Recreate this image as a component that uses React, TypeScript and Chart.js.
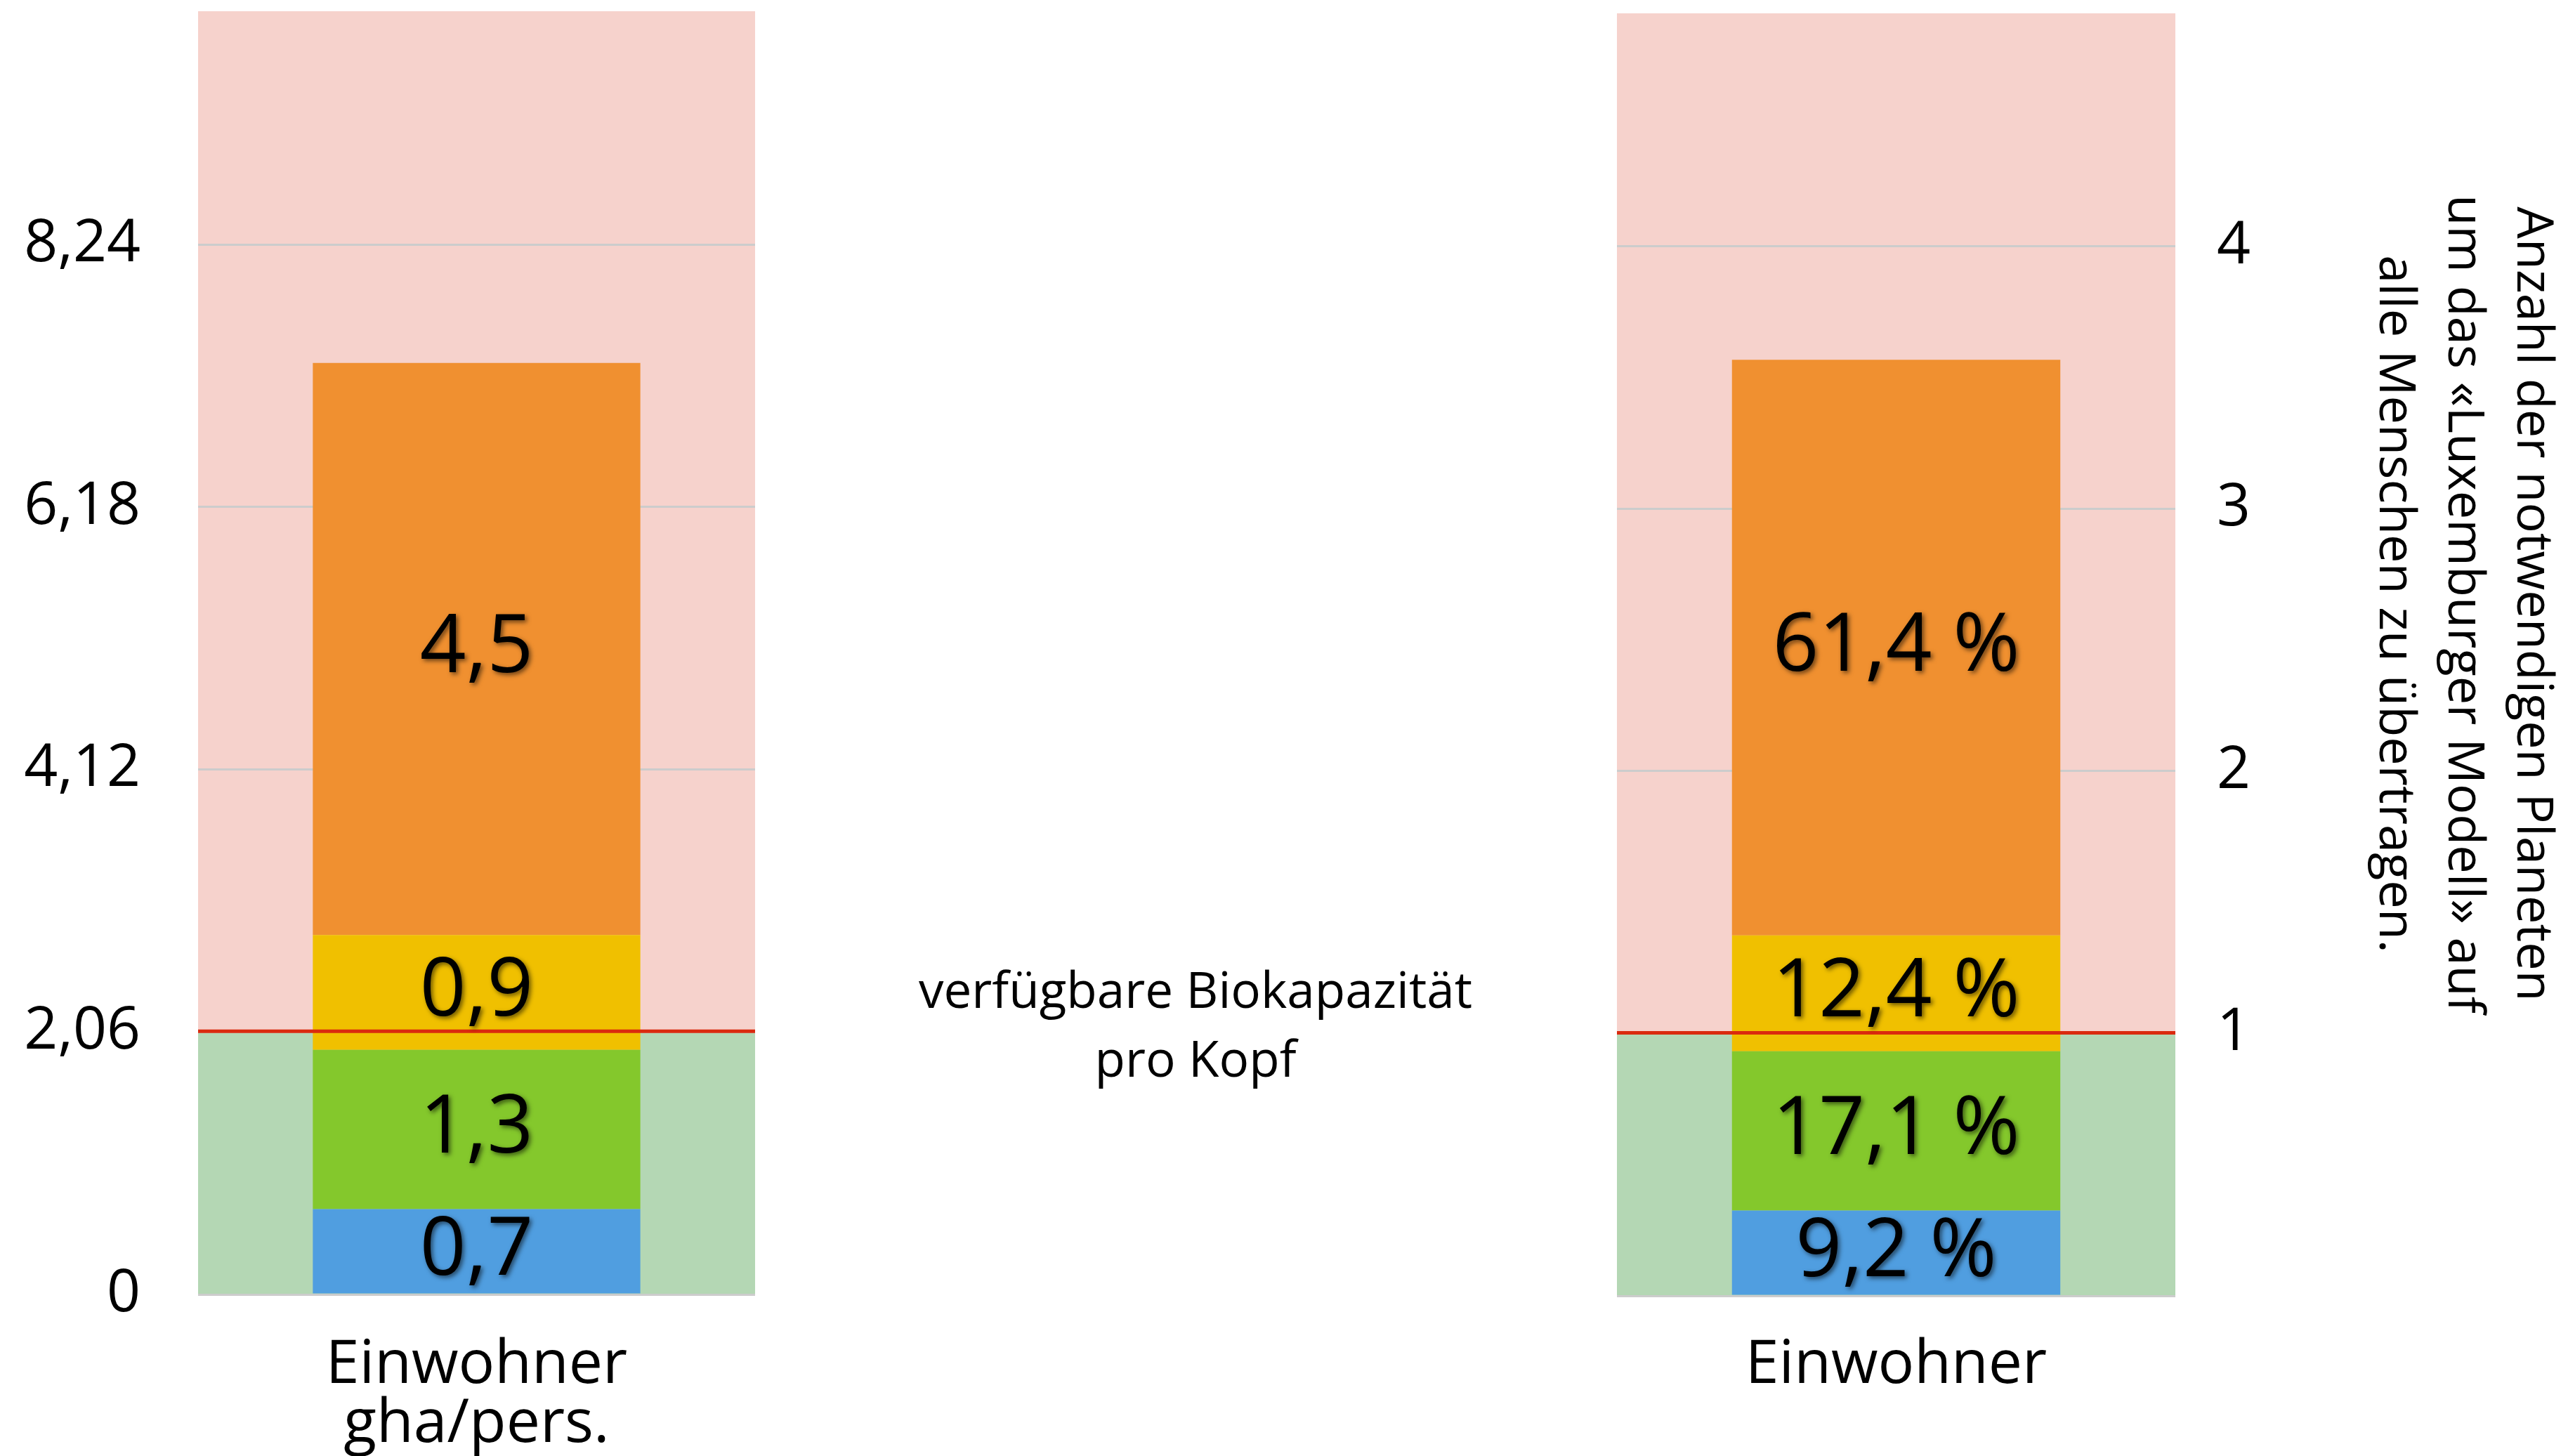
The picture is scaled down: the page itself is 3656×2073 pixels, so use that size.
import React, { useEffect, useRef } from 'react';
import { Chart, registerables } from 'chart.js';

Chart.register(...registerables);

// ---------- data ----------
const BIOCAPACITY = 2.06; // gha per person = 1 planet
const Y_MAX = 10.07;
const LEFT_TICKS = [0, 2.06, 4.12, 6.18, 8.24];
const LEFT_TICK_LABELS = ['0', '2,06', '4,12', '6,18', '8,24'];
const PLANET_TICKS = [0, 1, 2, 3, 4];
const PLANET_TICK_LABELS = ['', '1', '2', '3', '4'];
const SEGMENT_NAMES = ['Anteil 1', 'Anteil 2', 'Anteil 3', 'Anteil 4'];
const LEFT_SEGMENT_VALUES = [0.67, 1.25, 0.9, 4.49];
const RIGHT_SEGMENT_VALUES = [0.67, 1.25, 0.91, 4.52];
const LEFT_VALUE_LABELS = ['0,7', '1,3', '0,9', '4,5'];
const RIGHT_SHARE_LABELS = ['9,2 %', '17,1 %', '12,4 %', '61,4 %'];
const LEFT_CATEGORY = [['Einwohner', 'gha/pers.']];
const RIGHT_CATEGORY = ['Einwohner'];
const AXIS_TITLE_LINES = [
  'Anzahl der notwendigen Planeten',
  'um das «Luxemburger Modell» auf',
  'alle Menschen zu übertragen.',
];
const MIDDLE_TEXT = ['verfügbare Biokapazität', 'pro Kopf'];

// ---------- style ----------
const FONT = '"Open Sans", "Noto Sans", sans-serif';
const SEGMENT_COLORS = ['#509EE0', '#84C82C', '#F0C000', '#F09030'];
const PINK = '#F6D2CC';
const GREEN_BG = '#B4D7B4';
const GRID = '#CCCCCC';
const RED = '#DA2A0E';
const LABEL_SIZE = 115;
const TICK_SIZE = 84;

function makeZonesPlugin(valueLabels: string[], extraDraw?: (chart: any) => void) {
  return {
    id: 'zones',
    beforeDraw(chart: any) {
      const { ctx, chartArea: a, scales } = chart;
      const y = scales.y;
      const yb = y.getPixelForValue(BIOCAPACITY);
      const y0 = y.getPixelForValue(0);
      ctx.save();
      ctx.fillStyle = PINK;
      ctx.fillRect(a.left, a.top, a.right - a.left, yb - a.top);
      ctx.fillStyle = GREEN_BG;
      ctx.fillRect(a.left, yb, a.right - a.left, y0 - yb);
      ctx.restore();
    },
    afterDatasetsDraw(chart: any) {
      const { ctx, chartArea: a, scales } = chart;
      const y = scales.y;
      const yb = y.getPixelForValue(BIOCAPACITY);
      ctx.save();
      ctx.strokeStyle = RED;
      ctx.lineWidth = 5;
      ctx.beginPath();
      ctx.moveTo(a.left, yb - 1);
      ctx.lineTo(a.right, yb - 1);
      ctx.stroke();
      ctx.font = `400 ${LABEL_SIZE}px ${FONT}`;
      ctx.textAlign = 'center';
      ctx.textBaseline = 'alphabetic';
      ctx.fillStyle = '#000';
      ctx.shadowColor = 'rgba(0,0,0,0.55)';
      ctx.shadowBlur = 6;
      ctx.shadowOffsetX = 3;
      ctx.shadowOffsetY = 3;
      chart.data.datasets.forEach((_ds: any, i: number) => {
        const el = chart.getDatasetMeta(i).data[0];
        if (!el) return;
        const p = el.getProps(['x', 'y', 'base'], true);
        const mid = (p.y + p.base) / 2;
        ctx.fillText(valueLabels[i], p.x, mid - 8 + LABEL_SIZE * 0.357);
      });
      ctx.restore();
    },
    afterDraw(chart: any) {
      if (extraDraw) extraDraw(chart);
    },
  };
}

function datasets(values: number[]) {
  return values.map((v, i) => ({
    label: SEGMENT_NAMES[i],
    data: [v],
    backgroundColor: SEGMENT_COLORS[i],
    borderWidth: 0,
    barPercentage: 0.588,
    categoryPercentage: 1,
    stack: 's',
  }));
}

function LeftChart() {
  const ref = useRef<HTMLCanvasElement | null>(null);
  useEffect(() => {
    if (!ref.current) return;
    const chart = new Chart(ref.current, {
      type: 'bar',
      data: { labels: LEFT_CATEGORY as any, datasets: datasets(LEFT_SEGMENT_VALUES) as any },
      options: {
        responsive: false,
        devicePixelRatio: 1,
        animation: false,
        layout: { padding: { top: 16, right: 25, left: 0, bottom: 0 } },
        plugins: { legend: { display: false }, tooltip: { enabled: false } },
        scales: {
          x: {
            stacked: true,
            grid: { display: false, drawTicks: false },
            border: { display: false },
            ticks: {
              color: '#000',
              font: { family: FONT, size: 86, lineHeight: 0.97 },
              padding: 60,
              maxRotation: 0,
              autoSkip: false,
            },
            afterFit: (s: any) => {
              s.height = 230;
              s.paddingLeft = 0;
              s.paddingRight = 0;
            },
          },
          y: {
            stacked: true,
            min: 0,
            max: Y_MAX,
            position: 'left',
            grid: { color: GRID, lineWidth: 3, drawTicks: false },
            border: { display: false },
            ticks: {
              color: '#000',
              font: { family: FONT, size: TICK_SIZE },
              padding: 82,
              callback: (_v: any, i: number) => LEFT_TICK_LABELS[i],
            },
            afterBuildTicks: (s: any) => {
              s.ticks = LEFT_TICKS.map((value) => ({ value }));
            },
            afterFit: (s: any) => {
              s.width = 282;
              s.paddingTop = 0;
              s.paddingBottom = 0;
            },
          },
        } as any,
      },
      plugins: [makeZonesPlugin(LEFT_VALUE_LABELS)],
    });
    return () => chart.destroy();
  }, []);
  return (
    <canvas
      ref={ref}
      width={1100}
      height={2073}
      style={{ position: 'absolute', left: 0, top: 0, width: 1100, height: 2073 }}
    />
  );
}

const RIGHT_LEFT = 2200;

function drawAxisTitle(chart: any) {
  const { ctx } = chart;
  ctx.save();
  ctx.font = `400 72px ${FONT}`;
  ctx.fillStyle = '#000';
  ctx.textAlign = 'center';
  ctx.textBaseline = 'alphabetic';
  const baseX = 3584 - RIGHT_LEFT;
  const centerY = 860;
  AXIS_TITLE_LINES.forEach((line, i) => {
    ctx.save();
    ctx.translate(baseX - i * 98, centerY);
    ctx.rotate(Math.PI / 2);
    ctx.fillText(line, 0, 0);
    ctx.restore();
  });
  ctx.restore();
}

function RightChart() {
  const ref = useRef<HTMLCanvasElement | null>(null);
  useEffect(() => {
    if (!ref.current) return;
    const chart = new Chart(ref.current, {
      type: 'bar',
      data: { labels: RIGHT_CATEGORY, datasets: datasets(RIGHT_SEGMENT_VALUES) as any },
      options: {
        responsive: false,
        devicePixelRatio: 1,
        animation: false,
        layout: { padding: { top: 19, right: 0, left: 102, bottom: 0 } },
        plugins: { legend: { display: false }, tooltip: { enabled: false } },
        scales: {
          x: {
            stacked: true,
            grid: { display: false, drawTicks: false },
            border: { display: false },
            ticks: {
              color: '#000',
              font: { family: FONT, size: 86, lineHeight: 0.97 },
              padding: 58,
              maxRotation: 0,
              autoSkip: false,
            },
            afterFit: (s: any) => {
              s.height = 228;
              s.paddingLeft = 0;
              s.paddingRight = 0;
            },
          },
          y: {
            stacked: true,
            min: 0,
            max: Y_MAX,
            position: 'right',
            grid: { color: GRID, lineWidth: 3, drawTicks: false },
            border: { display: false },
            ticks: {
              color: '#000',
              font: { family: FONT, size: TICK_SIZE },
              padding: 59,
              callback: (_v: any, i: number) => PLANET_TICK_LABELS[i],
            },
            afterBuildTicks: (s: any) => {
              s.ticks = PLANET_TICKS.map((p) => ({ value: p * BIOCAPACITY }));
            },
            afterFit: (s: any) => {
              s.width = 559;
              s.paddingTop = 0;
              s.paddingBottom = 0;
            },
          },
        } as any,
      },
      plugins: [makeZonesPlugin(RIGHT_SHARE_LABELS, drawAxisTitle)],
    });
    return () => chart.destroy();
  }, []);
  return (
    <canvas
      ref={ref}
      width={1456}
      height={2073}
      style={{ position: 'absolute', left: RIGHT_LEFT, top: 0, width: 1456, height: 2073 }}
    />
  );
}

export default function App() {
  return (
    <div
      style={{
        position: 'fixed',
        left: 0,
        top: 0,
        width: 3656,
        height: 2073,
        background: '#fff',
        overflow: 'hidden',
        fontFamily: FONT,
      }}
    >
      <LeftChart />
      <div
        style={{
          position: 'absolute',
          left: 1302,
          top: 1359,
          width: 800,
          textAlign: 'center',
          fontSize: 71,
          lineHeight: '98px',
          color: '#000',
          whiteSpace: 'nowrap',
        }}
      >
        {MIDDLE_TEXT.map((t) => (
          <div key={t}>{t}</div>
        ))}
      </div>
      <RightChart />
    </div>
  );
}
